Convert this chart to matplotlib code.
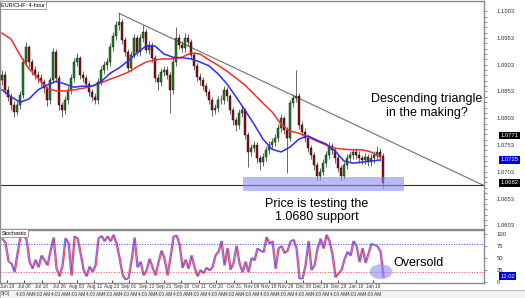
import numpy as np
import matplotlib.pyplot as plt
from matplotlib.patches import Rectangle, Ellipse

plt.rcParams['font.family'] = ['Liberation Sans', 'DejaVu Sans']

# EUR/CHF 4-hour candles
first_open = 1.0875
closes = [1.0884, 1.0856, 1.0843, 1.0828, 1.0815, 1.0828, 1.0846, 1.0908, 1.0936, 1.0908,
          1.0893, 1.0884, 1.0878, 1.0871, 1.0859, 1.0837, 1.0874, 1.0927, 1.0878, 1.0828,
          1.0818, 1.0837, 1.0856, 1.0878, 1.0908, 1.0916, 1.0884, 1.0878, 1.0867, 1.0852,
          1.0843, 1.0837, 1.0871, 1.0893, 1.0902, 1.0908, 1.0936, 1.0957, 1.0977, 1.0983,
          1.0949, 1.0927, 1.0897, 1.0921, 1.0953, 1.0927, 1.0953, 1.0964, 1.0931, 1.0940,
          1.0916, 1.0878, 1.0871, 1.0889, 1.0893, 1.0884, 1.0856, 1.0908, 1.0953, 1.0940,
          1.0934, 1.0953, 1.0946, 1.0921, 1.0901, 1.0880, 1.0874, 1.0863, 1.0852, 1.0837,
          1.0818, 1.0822, 1.0837, 1.0837, 1.0856, 1.0844, 1.0818, 1.0800, 1.0790, 1.0813,
          1.0818, 1.0772, 1.0740, 1.0747, 1.0753, 1.0728, 1.0721, 1.0730, 1.0744, 1.0753,
          1.0758, 1.0766, 1.0785, 1.0803, 1.0781, 1.0766, 1.0831, 1.0841, 1.0844, 1.0790,
          1.0777, 1.0766, 1.0747, 1.0734, 1.0715, 1.0695, 1.0702, 1.0719, 1.0734, 1.0751,
          1.0744, 1.0728, 1.0710, 1.0695, 1.0715, 1.0728, 1.0734, 1.0740, 1.0734, 1.0728,
          1.0725, 1.0730, 1.0721, 1.0728, 1.0734, 1.0740, 1.0732, 1.0682]
highs = [1.0893, 1.0892, 1.0863, 1.0850, 1.0835, 1.0836, 1.0853, 1.0915, 1.0945, 1.0940,
         1.0914, 1.0901, 1.0892, 1.0885, 1.0877, 1.0864, 1.0880, 1.0934, 1.0932, 1.0884,
         1.0834, 1.0845, 1.0863, 1.0886, 1.0915, 1.0924, 1.0920, 1.0891, 1.0884, 1.0873,
         1.0858, 1.0850, 1.0878, 1.0900, 1.0910, 1.0916, 1.0943, 1.0965, 1.0985, 1.0999,
         1.0988, 1.0955, 1.0932, 1.0928, 1.0961, 1.0959, 1.0960, 1.0977, 1.0969, 1.0948,
         1.0946, 1.0921, 1.0885, 1.0896, 1.0900, 1.0900, 1.0890, 1.0915, 1.0973, 1.0960,
         1.0947, 1.0962, 1.0960, 1.0951, 1.0927, 1.0907, 1.0887, 1.0880, 1.0869, 1.0858,
         1.0843, 1.0830, 1.0845, 1.0846, 1.0864, 1.0862, 1.0849, 1.0824, 1.0806, 1.0821,
         1.0828, 1.0823, 1.0778, 1.0755, 1.0761, 1.0758, 1.0735, 1.0738, 1.0752, 1.0761,
         1.0766, 1.0774, 1.0793, 1.0810, 1.0808, 1.0787, 1.0838, 1.0849, 1.0893, 1.0850,
         1.0797, 1.0784, 1.0772, 1.0753, 1.0740, 1.0721, 1.0710, 1.0727, 1.0742, 1.0759,
         1.0757, 1.0750, 1.0734, 1.0716, 1.0722, 1.0736, 1.0742, 1.0748, 1.0747, 1.0741,
         1.0735, 1.0738, 1.0737, 1.0736, 1.0742, 1.0751, 1.0747, 1.0738]
lows = [1.0866, 1.0848, 1.0835, 1.0818, 1.0806, 1.0809, 1.0821, 1.0840, 1.0900, 1.0899,
        1.0884, 1.0876, 1.0869, 1.0862, 1.0850, 1.0826, 1.0830, 1.0868, 1.0871, 1.0818,
        1.0805, 1.0811, 1.0830, 1.0849, 1.0871, 1.0900, 1.0877, 1.0870, 1.0859, 1.0844,
        1.0835, 1.0829, 1.0830, 1.0865, 1.0886, 1.0894, 1.0901, 1.0929, 1.0950, 1.0968,
        1.0941, 1.0919, 1.0889, 1.0890, 1.0915, 1.0920, 1.0920, 1.0946, 1.0924, 1.0923,
        1.0908, 1.0870, 1.0855, 1.0864, 1.0882, 1.0876, 1.0813, 1.0849, 1.0901, 1.0932,
        1.0926, 1.0927, 1.0938, 1.0913, 1.0893, 1.0872, 1.0866, 1.0855, 1.0844, 1.0829,
        1.0808, 1.0811, 1.0815, 1.0829, 1.0830, 1.0836, 1.0810, 1.0791, 1.0780, 1.0783,
        1.0806, 1.0764, 1.0712, 1.0732, 1.0740, 1.0719, 1.0706, 1.0713, 1.0723, 1.0737,
        1.0746, 1.0751, 1.0759, 1.0778, 1.0773, 1.0700, 1.0760, 1.0824, 1.0834, 1.0782,
        1.0769, 1.0758, 1.0739, 1.0726, 1.0706, 1.0687, 1.0688, 1.0696, 1.0712, 1.0727,
        1.0736, 1.0720, 1.0702, 1.0687, 1.0689, 1.0708, 1.0721, 1.0727, 1.0726, 1.0720,
        1.0717, 1.0718, 1.0713, 1.0714, 1.0720, 1.0727, 1.0724, 1.0672]

# moving averages, one value every 3rd bar
ma_step = 3
red_ma = [1.0962, 1.0951, 1.0921, 1.0895, 1.0878, 1.0859, 1.0854, 1.0854, 1.0856, 1.0859,
          1.0863, 1.0869, 1.0876, 1.0882, 1.0889, 1.0899, 1.0908, 1.0912, 1.0914, 1.0914,
          1.0917, 1.0925, 1.0923, 1.0912, 1.0902, 1.0891, 1.0878, 1.0865, 1.0848, 1.0831,
          1.0815, 1.0792, 1.0779, 1.0775, 1.0768, 1.0760, 1.0753, 1.0747, 1.0745, 1.0744,
          1.0744, 1.0740, 1.0730]
blue_ma = [1.0856, 1.0843, 1.0833, 1.0839, 1.0856, 1.0865, 1.0872, 1.0867, 1.0861, 1.0863,
           1.0863, 1.0871, 1.0887, 1.0897, 1.0910, 1.0925, 1.0938, 1.0938, 1.0923, 1.0917,
           1.0916, 1.0914, 1.0908, 1.0901, 1.0886, 1.0867, 1.0843, 1.0818, 1.0792, 1.0764,
           1.0745, 1.0740, 1.0749, 1.0764, 1.0770, 1.0762, 1.0755, 1.0742, 1.0723, 1.0719,
           1.0721, 1.0723, 1.0725]

stoch_k = [90, 81, 42, 38, 21, 60, 96, 97, 88, 42,
           28, 46, 31, 55, 45, 35, 65, 92, 28, 12,
           35, 91, 81, 14, 95, 91, 60, 25, 12, 32,
           21, 35, 91, 96, 85, 95, 85, 98, 80, 50,
           15, 5, 8, 45, 92, 31, 42, 14, 24, 48,
           30, 14, 42, 65, 49, 14, 52, 95, 97, 78,
           30, 46, 28, 55, 30, 12, 25, 18, 30, 24,
           31, 56, 63, 85, 35, 70, 26, 40, 75, 38,
           21, 42, 21, 50, 45, 70, 65, 62, 93, 80,
           85, 28, 70, 75, 60, 65, 85, 88, 70, 7,
           7, 35, 85, 25, 35, 70, 90, 70, 98, 85,
           56, 10, 18, 25, 48, 63, 55, 85, 75, 42,
           70, 40, 60, 80, 77, 74, 63, 10]

date_labels = ['Jun 29', 'Jul 08', 'Jul 18', 'Jul 26', 'Aug 03', 'Aug 12', 'Aug 23',
               'Sep 01', 'Sep 12', 'Sep 21', 'Sep 30', 'Oct 11', 'Oct 20', 'Oct 31',
               'Nov 09', 'Nov 18', 'Nov 29', 'Dec 08', 'Dec 19', 'Dec 29', 'Jan 10', 'Jan 19']
price_ticks = [1.1003, 1.0953, 1.0903, 1.0853, 1.0803, 1.0753, 1.0703, 1.0653, 1.0603]
stoch_ticks = [0, 25, 50, 75, 100]
price_tags = [(1.0771, 'black'), (1.0725, '#0000e0'), (1.0682, 'black')]
stoch_now = 12.02

support = 1.0679
zone_low, zone_high = 1.0667, 1.0694
trend_start = (39, 1.0999)
trend_end = (160.7, 1.0677)

fig = plt.figure(figsize=(5.25, 2.98), dpi=100)
ax = fig.add_axes([0, 69 / 298, 484 / 525, 228 / 298])
sx = fig.add_axes([0, 15 / 298, 484 / 525, 53 / 298], sharex=ax)

idx = np.arange(len(closes))
c = np.array(closes)
o = np.r_[first_open, c[:-1]]
up = c >= o

# candles
ax.vlines(idx, lows, highs, color='#505050', lw=0.6, zorder=2)
ax.bar(idx[up], (c - o)[up], bottom=o[up], width=0.75, color='#1f8c1f',
       edgecolor='black', lw=0.3, zorder=3)
ax.bar(idx[~up], (o - c)[~up], bottom=c[~up], width=0.75, color='#9c1010',
       edgecolor='black', lw=0.3, zorder=3)

ma_idx = idx[::ma_step]
ax.plot(ma_idx, red_ma, color='#ff2a2a', lw=1.1, zorder=4)
ax.plot(ma_idx, blue_ma, color='#2a2aff', lw=1.1, zorder=4)

# triangle and support
ax.plot([trend_start[0], trend_end[0]], [trend_start[1], trend_end[1]],
        color='#707070', lw=0.8, zorder=1)
ax.axhline(support, color='#303030', lw=0.8, zorder=1)
ax.add_patch(Rectangle((80.3, zone_low), 53.7, zone_high - zone_low,
                       facecolor='#8c8cf0', alpha=0.6, edgecolor='none', zorder=5))

ax.text(141.7, 1.0826, 'Descending triangle\nin the making?', ha='center', va='center',
        fontsize=9, linespacing=1.15)
ax.text(105, 1.0630, 'Price is testing the\n1.0680 support', ha='center', va='center',
        fontsize=9, linespacing=1.1)
ax.text(0.003, 0.993, 'EUR/CHF: 4-hour', transform=ax.transAxes, fontsize=4.0, va='top',
        bbox=dict(facecolor='white', edgecolor='#808080', lw=0.5, pad=0.8))

ax.set_xlim(-0.67, 160.67)
ax.set_ylim(1.0596, 1.10221)
ax.yaxis.tick_right()
ax.set_yticks(price_ticks)
ax.set_yticklabels(['%.4f' % p for p in price_ticks])
ax.set_yticks(np.arange(1.0603, 1.1013, 0.001), minor=True)
ax.tick_params(axis='y', which='both', direction='out', length=2, width=0.5,
               color='#606060', labelsize=4.2, pad=7, labelcolor='#303030')
ax.tick_params(axis='x', bottom=False, labelbottom=False)

for val, col in price_tags:
    ax.text(1.034, val, '%.4f' % val, transform=ax.get_yaxis_transform(), fontsize=4.2,
            color='white', va='center', ha='left',
            bbox=dict(facecolor=col, edgecolor='none', pad=0.9))

# stochastic
sx.plot(idx + 0.4, stoch_k, color='#ff4a4a', lw=0.9)
sx.plot(idx, stoch_k, color='#6a50ee', lw=0.9, alpha=0.85)
sx.axhline(80, color='#4040ff', ls=':', lw=0.7)
sx.axhline(20, color='#ff4040', ls=':', lw=0.7)
sx.add_patch(Ellipse((126.3, 21.5), 7.5, 31, facecolor='#8c8cf0', alpha=0.6,
                     edgecolor='none', zorder=5))
sx.text(139, 40, 'Oversold', ha='center', va='center', fontsize=9)
sx.text(0.003, 0.99, 'Stochastic', transform=sx.transAxes, fontsize=4.0, va='top',
        bbox=dict(facecolor='white', edgecolor='#808080', lw=0.5, pad=0.8))

sx.set_ylim(-2.1, 108.3)
sx.yaxis.tick_right()
sx.set_yticks(stoch_ticks)
sx.tick_params(axis='y', direction='out', length=2, width=0.5, color='#606060',
               labelsize=4.2, pad=7, labelcolor='#303030')
sx.text(1.034, stoch_now, '%.2f' % stoch_now, transform=sx.get_yaxis_transform(),
        fontsize=4.2, color='white', va='center', ha='left',
        bbox=dict(facecolor='#0000e0', edgecolor='none', pad=0.9))

date_pos = np.linspace(1.67, 123.7, len(date_labels))
sx.set_xticks(date_pos)
sx.set_xticklabels(date_labels)
sx.tick_params(axis='x', direction='in', length=2, width=0.5, labelsize=3.4, pad=1,
               labelcolor='#303030')

for a in (ax, sx):
    for s in a.spines.values():
        s.set_color('#8c8c8c')
        s.set_linewidth(1.0)

# bottom tab strip
fig.patches.append(Rectangle((0, 0), 1, 8 / 298, transform=fig.transFigure,
                             facecolor='#f2f2f2', edgecolor='#a0a0a0', lw=0.5))
fig.text(1 / 525, 4 / 298, 'S|O|', fontsize=3.4, va='center', color='#303030')
for p in date_pos[1:]:
    fig.text((2 + 3 * p) / 525, 4 / 298, '4:00 AM', fontsize=3.4, ha='center',
             va='center', color='#303030')

fig.savefig('out.png', dpi=100)
